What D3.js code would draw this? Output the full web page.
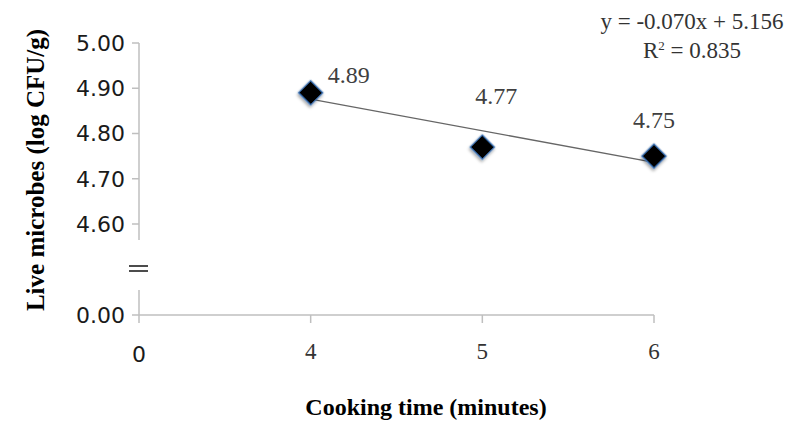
<!DOCTYPE html>
<html>
<head>
<meta charset="utf-8">
<script src="https://cdn.jsdelivr.net/npm/d3@7"></script>
<style>
  html, body { margin: 0; padding: 0; background: #fff; }
  svg { display: block; }
</style>
</head>
<body>
<svg id="chart" width="793" height="421"></svg>
<script>
// ---- data ----
const categories = ["0", "4", "5", "6"];
const times = [4, 5, 6];
const values = [4.89, 4.77, 4.75];
const valueLabels = ["4.89", "4.77", "4.75"];
const yTicksUpper = [4.60, 4.70, 4.80, 4.90, 5.00];
const yTicksLower = [0.00];
const trendSlope = -0.070;
const trendIntercept = 5.156;
const rSquared = 0.835;
const xTitle = "Cooking time (minutes)";
const yTitle = "Live microbes (log CFU/g)";

// ---- layout ----
const svg = d3.select("#chart");
const axisColor = "#bfbfbf";
const serif = "'Liberation Serif', 'Times New Roman', serif";
const sans = "'DejaVu Sans', sans-serif";

const x = d3.scalePoint().domain(categories).range([139, 654]);
const xNum = d3.scaleLinear().domain([4, 6]).range([x("4"), x("6")]);
const yUp = d3.scaleLinear().domain([4.6, 5.0]).range([224, 43]);
const yLow = d3.scaleLinear().domain([0, 0.1]).range([315, 270]);
const x0 = x("0");
const yBottom = yLow(0);

const defs = svg.append("defs");
const f = defs.append("filter").attr("id", "shadow").attr("x", "-50%").attr("y", "-50%").attr("width", "200%").attr("height", "200%");
f.append("feDropShadow").attr("dx", 1).attr("dy", 2).attr("stdDeviation", 1.5).attr("flood-color", "#000").attr("flood-opacity", 0.35);

// y axis upper segment
svg.append("line").attr("x1", x0).attr("x2", x0).attr("y1", yUp(5.0)).attr("y2", 240)
  .attr("stroke", axisColor).attr("stroke-width", 1.5);
// y axis lower segment
svg.append("line").attr("x1", x0).attr("x2", x0).attr("y1", 290).attr("y2", yBottom)
  .attr("stroke", axisColor).attr("stroke-width", 1.5);

// break marker
[266, 271].forEach(yy => {
  svg.append("line").attr("x1", x0 - 10).attr("x2", x0 + 9).attr("y1", yy).attr("y2", yy)
    .attr("stroke", "#111").attr("stroke-width", 1.5);
});

// y ticks
const yTickData = yTicksUpper.map(v => ({v, y: yUp(v)})).concat(yTicksLower.map(v => ({v, y: yLow(v)})));
yTickData.forEach(d => {
  svg.append("line").attr("x1", x0 - 7).attr("x2", x0).attr("y1", d.y).attr("y2", d.y)
    .attr("stroke", axisColor).attr("stroke-width", 1.5);
  svg.append("text").attr("x", x0 - 14).attr("y", d.y).attr("dy", "0.36em")
    .attr("text-anchor", "end").attr("font-family", sans).attr("font-size", 22)
    .attr("fill", "#1a1a1a").text(d3.format(".2f")(d.v));
});

// x axis
svg.append("line").attr("x1", x0).attr("x2", x("6")).attr("y1", yBottom).attr("y2", yBottom)
  .attr("stroke", axisColor).attr("stroke-width", 1.5);
categories.forEach(c => {
  svg.append("line").attr("x1", x(c)).attr("x2", x(c)).attr("y1", yBottom).attr("y2", yBottom + 8)
    .attr("stroke", axisColor).attr("stroke-width", 1.5);
  const isZero = c === "0";
  svg.append("text").attr("x", x(c)).attr("y", isZero ? 362 : 359)
    .attr("text-anchor", "middle")
    .attr("font-family", isZero ? sans : serif)
    .attr("font-size", isZero ? 22 : 23)
    .attr("fill", isZero ? "#1a1a1a" : "#333").text(c);
});

// trendline
svg.append("line")
  .attr("x1", xNum(4)).attr("y1", yUp(trendIntercept + trendSlope * 4))
  .attr("x2", xNum(6)).attr("y2", yUp(trendIntercept + trendSlope * 6))
  .attr("stroke", "#666").attr("stroke-width", 1.3);

// markers
const diamond = d3.symbol().type(d3.symbolSquare).size(300);
times.forEach((t, i) => {
  svg.append("path").attr("d", diamond())
    .attr("transform", `translate(${x(String(t))},${yUp(values[i])}) rotate(45)`)
    .attr("fill", "#000").attr("stroke", "#3a6fb0").attr("stroke-width", 1.2)
    .attr("filter", "url(#shadow)");
});

// data labels
const labelOffsets = [[17, -10, "start"], [14, -43, "middle"], [0, -28, "middle"]];
times.forEach((t, i) => {
  const [dx, dy, anchor] = labelOffsets[i];
  svg.append("text").attr("x", x(String(t)) + dx).attr("y", yUp(values[i]) + dy)
    .attr("text-anchor", anchor).attr("font-family", serif).attr("font-size", 24)
    .attr("fill", "#404040").text(valueLabels[i]);
});

// equation
const eq = svg.append("text").attr("x", 692).attr("y", 29).attr("text-anchor", "middle")
  .attr("font-family", serif).attr("font-size", 23).attr("fill", "#333");
eq.text(`y = ${trendSlope.toFixed(3)}x + ${trendIntercept.toFixed(3)}`);
const r2 = svg.append("text").attr("x", 692).attr("y", 58).attr("text-anchor", "middle")
  .attr("font-family", serif).attr("font-size", 23).attr("fill", "#333");
r2.append("tspan").text("R");
r2.append("tspan").attr("font-size", 13).attr("dy", -8).text("2");
r2.append("tspan").attr("dy", 8).text(` = ${rSquared.toFixed(3)}`);

// axis titles
svg.append("text").attr("x", 426).attr("y", 415).attr("text-anchor", "middle")
  .attr("font-family", serif).attr("font-weight", "bold").attr("font-size", 24)
  .attr("fill", "#000").text(xTitle);
svg.append("text").attr("transform", "translate(44,170) rotate(-90)").attr("text-anchor", "middle")
  .attr("font-family", serif).attr("font-weight", "bold").attr("font-size", 25)
  .attr("fill", "#000").text(yTitle);
</script>
</body>
</html>
